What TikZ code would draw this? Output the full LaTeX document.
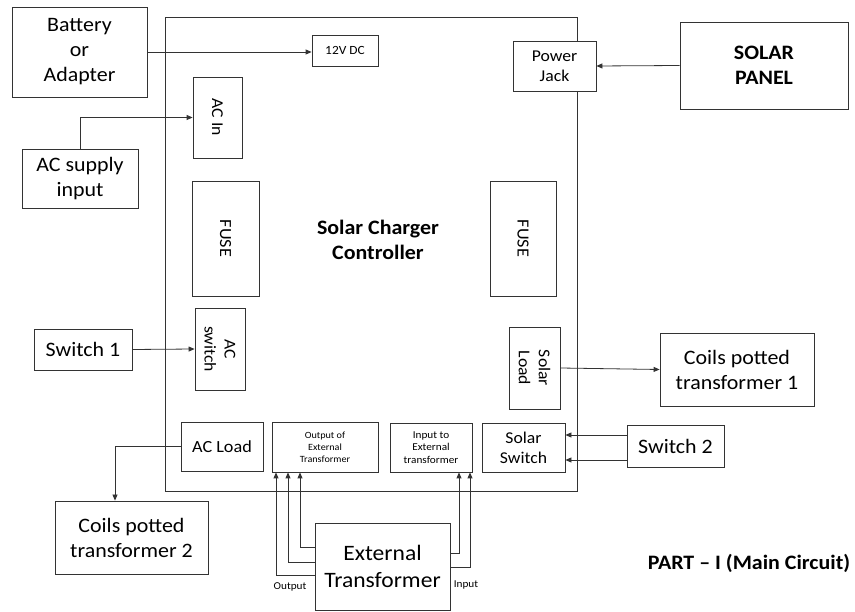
\documentclass[tikz,border=0pt]{standalone}
\usepackage{fontspec}
\setmainfont{Carlito}[FakeStretch=1.07]
\usetikzlibrary{arrows.meta,calc}
\newcommand{\myfs}[2]{\fontsize{#1}{#2}\selectfont}
\begin{document}
\begin{tikzpicture}[x=1pt,y=-1pt,
  box/.style={draw=black!80,line width=0.8pt,fill=white,inner sep=0pt,align=center},
  big/.style={font=\myfs{20.5}{25}},
  mid/.style={font=\myfs{16.5}{20}},
  small/.style={font=\myfs{10.5}{12.5}},
  conn/.style={draw=black!80,line width=0.8pt},
  arr/.style={conn,-{Triangle[length=6pt,width=5pt]}}]
\useasboundingbox (0,0) rectangle (855,612);
% main controller box
\draw[conn] (165,17) rectangle (577,491);
\node[font=\myfs{20.5}{25}\bfseries,align=center] (title) at (378,239.5) {Solar Charger\\Controller};
% boxes
\node[box,big,minimum width=135pt,minimum height=90pt] (bat) at (79.5,52) {Battery\\or\\Adapter};
\node[box,font=\myfs{12.5}{15},minimum width=66pt,minimum height=31pt] (dc) at (345,50.5) {12V DC};
\node[box,minimum width=49pt,minimum height=81pt] (acin) at (217.5,117.5) {};
\node[mid,rotate=-90] (acinT) at (acin) {AC In};
\node[box,big,minimum width=116pt,minimum height=59pt] (acsup) at (80,178.5) {AC supply\\input};
\node[box,minimum width=67pt,minimum height=115pt] (fuseL) at (225.5,238.5) {};
\node[font=\myfs{17}{20},rotate=-90] (fuseLT) at (fuseL) {FUSE};
\node[box,minimum width=66pt,minimum height=115pt] (fuseR) at (523,238.5) {};
\node[font=\myfs{17}{20},rotate=-90] (fuseRT) at (fuseR) {FUSE};
\node[box,mid,minimum width=83pt,minimum height=50pt] (pj) at (554.5,66) {Power\\Jack};
\node[box,font=\myfs{20.5}{25}\bfseries,minimum width=168pt,minimum height=87pt] (solar) at (764,65.5) {SOLAR\\PANEL};
\node[box,big,minimum width=98pt,minimum height=41pt] (sw1) at (83,349.5) {Switch 1};
\node[box,minimum width=50pt,minimum height=82pt] (acsw) at (220,349) {};
\node[mid,rotate=-90,align=center] (acswT) at (acsw) {AC\\switch};
\node[box,font=\myfs{17}{20},minimum width=82pt,minimum height=49pt] (acload) at (222,446.5) {AC Load};
\node[box,big,minimum width=153pt,minimum height=73pt] (coils2) at (131.5,537.5) {Coils potted\\transformer 2};
\node[box,font=\myfs{9.5}{12},minimum width=106pt,minimum height=50pt] (outbox) at (325,447) {Output of\\External\\Transformer};
\node[box,small,minimum width=82pt,minimum height=49pt] (inbox) at (431,447.5) {Input to\\External\\transformer};
\node[box,mid,minimum width=83pt,minimum height=49pt] (solsw) at (523.5,447.5) {Solar\\Switch};
\node[box,minimum width=51pt,minimum height=82pt] (solload) at (534.5,368) {};
\node[mid,rotate=-90,align=center] (solloadT) at (solload) {Solar\\Load};
\node[box,big,minimum width=154pt,minimum height=73pt] (coils1) at (737,369.5) {Coils potted\\transformer 1};
\node[box,big,minimum width=97pt,minimum height=42pt] (sw2) at (675.5,446) {Switch 2};
\node[box,font=\myfs{22}{27},minimum width=135pt,minimum height=87pt] (ext) at (382.5,566.5) {External\\Transformer};
\node[small] (outlbl) at (290,587) {Output};
\node[small] (inlbl) at (466,585) {Input};
\node[font=\myfs{20.5}{25}\bfseries] (part) at (749,563) {PART -- I (Main Circuit)};
% connectors
\draw[arr] (bat.east) -- (bat.east -| dc.west);
\draw[arr] (acsup.north) |- (acin.west);
\draw[arr] (solar.west) -- (pj.east);
\draw[arr] (sw1.east) -- (acsw.west);
\draw[arr] (acload.west) -| ([xshift=-16.5pt]coils2.north);
\draw[arr] (solload.east) -- (coils1.west);
\draw[arr] ([yshift=11pt]sw2.west) -- ([yshift=11pt]sw2.west -| solsw.east);
\draw[arr] ([yshift=-14pt]sw2.west) -- ([yshift=-14pt]sw2.west -| solsw.east);
\draw[arr] ([yshift=19.5pt]ext.west) -| ([xshift=-25pt]outbox.south);
\draw[arr] ([yshift=4.5pt]ext.west) -| ([xshift=-37pt]outbox.south);
\draw[arr] ([yshift=-8.5pt]ext.west) -| ([xshift=-49pt]outbox.south);
\draw[arr] ([yshift=13.5pt]ext.east) -| ([xshift=28pt]inbox.south);
\draw[arr] ([yshift=-0.5pt]ext.east) -| ([xshift=39pt]inbox.south);
\end{tikzpicture}
\end{document}
